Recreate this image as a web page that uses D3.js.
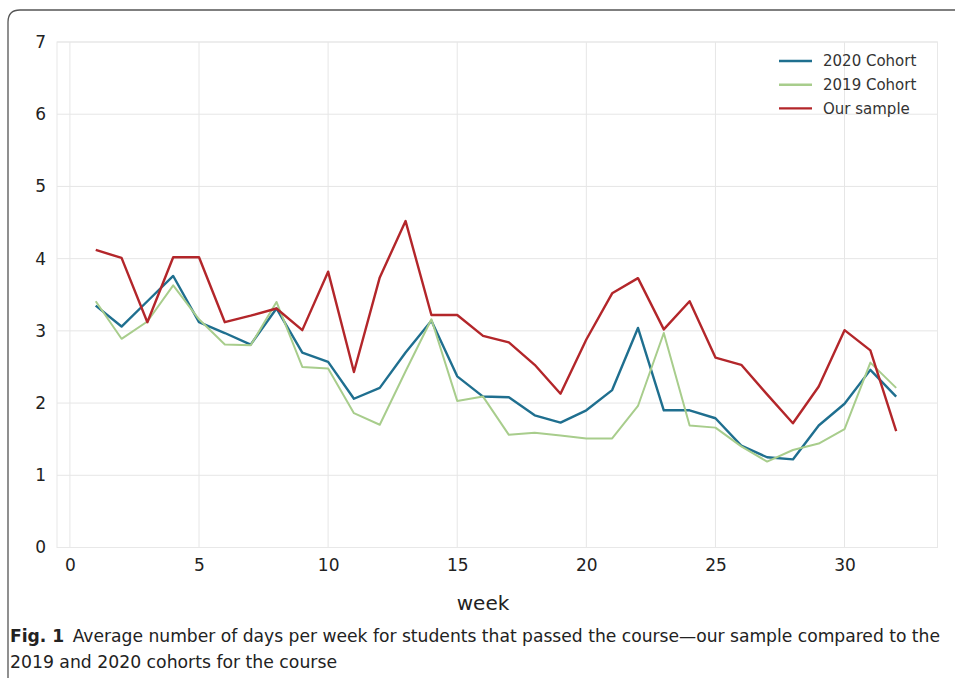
<!DOCTYPE html>
<html>
<head>
<meta charset="utf-8">
<script src="https://cdn.jsdelivr.net/npm/d3@7"></script>
<style>
  html, body { margin: 0; padding: 0; background: #fff; }
  svg { display: block; }
</style>
</head>
<body>
<svg id="chart" width="955" height="678"></svg>
<script>
const weeks = d3.range(1, 33);
const cohort2020 = [3.35, 3.06, 3.41, 3.76, 3.12, 2.97, 2.81, 3.31, 2.70, 2.57, 2.06, 2.21, 2.70, 3.14, 2.37, 2.09,
                    2.08, 1.83, 1.73, 1.90, 2.18, 3.04, 1.90, 1.90, 1.79, 1.41, 1.25, 1.22, 1.69, 1.99, 2.46, 2.09];
const cohort2019 = [3.41, 2.89, 3.13, 3.63, 3.16, 2.81, 2.80, 3.40, 2.50, 2.48, 1.86, 1.70, 2.44, 3.16, 2.03, 2.09,
                    1.56, 1.59, 1.55, 1.51, 1.51, 1.96, 2.97, 1.69, 1.66, 1.40, 1.19, 1.35, 1.44, 1.64, 2.56, 2.21];
const ourSample  = [4.12, 4.01, 3.12, 4.02, 4.02, 3.12, 3.21, 3.31, 3.01, 3.82, 2.43, 3.74, 4.52, 3.22, 3.22, 2.93,
                    2.84, 2.53, 2.13, 2.88, 3.52, 3.73, 3.02, 3.41, 2.63, 2.53, 2.12, 1.72, 2.23, 3.01, 2.73, 1.61];
const seriesNames = ["2020 Cohort", "2019 Cohort", "Our sample"];
const seriesColors = ["#1f6f8f", "#a8cd8c", "#b3262a"];
const xTicks = [0, 5, 10, 15, 20, 25, 30];
const yTicks = [0, 1, 2, 3, 4, 5, 6, 7];
const xLabel = "week";
const captionBold = "Fig. 1";
const captionLine1 = "Average number of days per week for students that passed the course\u2014our sample compared to the";
const captionLine2 = "2019 and 2020 cohorts for the course";

(function () {
const svg = d3.select("#chart");

// figure border (rounded top-left corner)
svg.append("path")
  .attr("d", "M8,678 L8,22 Q8,10 20,10 L955,10")
  .attr("fill", "none").attr("stroke", "#555").attr("stroke-width", 1.3);

const pL = 57, pR = 937.5, pT = 42, pB = 547.5;
const x = d3.scaleLinear().domain([-0.5, 33.6]).range([pL, pR]);
const y = d3.scaleLinear().domain([0, 7]).range([pB, pT]);

const g = svg.append("g");

// gridlines
g.selectAll(".gx").data(xTicks).enter().append("line")
  .attr("x1", d => x(d)).attr("x2", d => x(d))
  .attr("y1", pT).attr("y2", pB)
  .attr("stroke", "#e6e6e6").attr("stroke-width", 1);
g.selectAll(".gy").data(yTicks).enter().append("line")
  .attr("x1", pL).attr("x2", pR)
  .attr("y1", d => y(d)).attr("y2", d => y(d))
  .attr("stroke", "#e6e6e6").attr("stroke-width", 1);
// frame
g.append("rect").attr("x", pL).attr("y", pT)
  .attr("width", pR - pL).attr("height", pB - pT)
  .attr("fill", "none").attr("stroke", "#e8e8e8").attr("stroke-width", 1);

// axes (labels only)
const fontTick = "'DejaVu Sans', 'Open Sans', sans-serif";
const fmt = d3.format("d");
const xAxis = d3.axisBottom(x).tickValues(xTicks).tickFormat(fmt).tickSize(0).tickPadding(11);
const yAxis = d3.axisLeft(y).tickValues(yTicks).tickFormat(fmt).tickSize(0).tickPadding(11);
const xg = svg.append("g").attr("transform", `translate(0,${pB})`).call(xAxis);
const yg = svg.append("g").attr("transform", `translate(${pL},0)`).call(yAxis);
[xg, yg].forEach(a => {
  a.select(".domain").remove();
  a.selectAll("text").attr("fill", "#222").style("font-family", fontTick).style("font-size", "17px");
});

svg.append("text").attr("x", x(16)).attr("y", 610)
  .attr("text-anchor", "middle").attr("fill", "#222")
  .style("font-family", fontTick).style("font-size", "20px").text(xLabel);

// lines
const allSeries = [cohort2020, cohort2019, ourSample];
const line = d3.line().x((d, i) => x(weeks[i])).y(d => y(d));
allSeries.forEach((s, k) => {
  svg.append("path").datum(s)
    .attr("d", line)
    .attr("fill", "none")
    .attr("stroke", seriesColors[k])
    .attr("stroke-width", k === 1 ? 2 : 2.4)
    .attr("stroke-linejoin", "round");
});

// legend
const lg = svg.append("g");
seriesNames.forEach((n, i) => {
  const yy = 61 + i * 23.7;
  lg.append("line").attr("x1", 779).attr("x2", 812).attr("y1", yy).attr("y2", yy)
    .attr("stroke", seriesColors[i]).attr("stroke-width", 2.4);
  lg.append("text").attr("x", 823).attr("y", yy).attr("dy", "0.35em")
    .attr("fill", "#333").style("font-family", fontTick).style("font-size", "15px").text(n);
});

// caption
const capFont = "'Liberation Sans Narrow', 'DejaVu Sans Condensed', 'Noto Sans', sans-serif";
const c1 = svg.append("text").attr("x", 10).attr("y", 642)
  .attr("fill", "#222").style("font-family", capFont).style("font-size", "18px")
  .attr("textLength", 930).attr("lengthAdjust", "spacingAndGlyphs");
c1.append("tspan").style("font-weight", "bold").text(captionBold);
c1.append("tspan").attr("dx", 8).text(captionLine1);
svg.append("text").attr("x", 10).attr("y", 668)
  .attr("fill", "#222").style("font-family", capFont).style("font-size", "18px")
  .attr("textLength", 327).attr("lengthAdjust", "spacingAndGlyphs")
  .text(captionLine2);
})();
</script>
</body>
</html>
